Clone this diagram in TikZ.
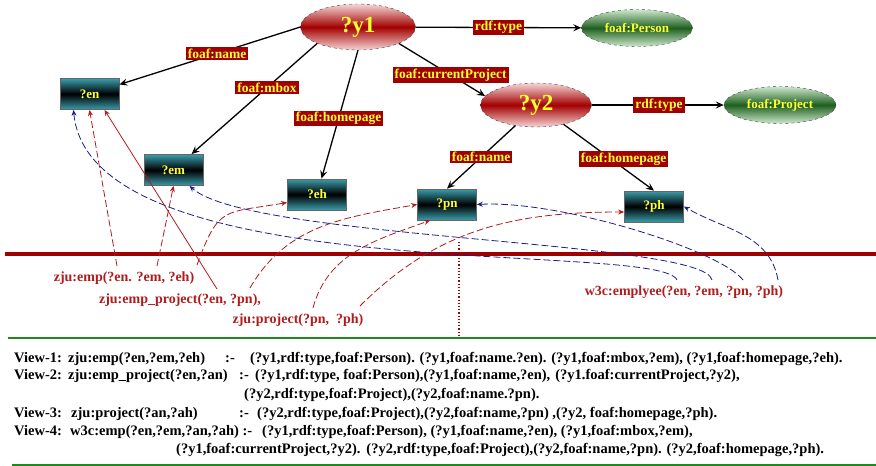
\documentclass[tikz,border=0pt]{standalone}
\usepackage{fontspec}
\setmainfont{Liberation Serif}
\usetikzlibrary{shapes.geometric,arrows.meta}
\definecolor{predred}{HTML}{A00000}
\definecolor{ellpink}{HTML}{F6D6D6}
\definecolor{ellred}{HTML}{A30000}
\definecolor{ellmint}{HTML}{CDE8CD}
\definecolor{ellgreen}{HTML}{1F5F1F}
\definecolor{boxteal}{HTML}{3A9CAA}
\definecolor{labyellow}{HTML}{FFFF33}
\definecolor{arcred}{HTML}{B01C1C}
\definecolor{arcblue}{HTML}{1C1C8C}
\definecolor{rulegreen}{HTML}{1E8A1E}
\begin{document}
\begin{tikzpicture}[x=1pt,y=1pt,
  varell/.style={ellipse,draw=black!75,dashed,inner sep=0pt,top color=ellpink,bottom color=ellpink,middle color=ellred,text=labyellow,font=\fontsize{23}{25}\selectfont\bfseries},
  classell/.style={ellipse,draw=black!75,dashed,inner sep=0pt,top color=ellmint,bottom color=ellmint,middle color=ellgreen,text=labyellow,font=\fontsize{13}{15}\selectfont\bfseries},
  termbox/.style={rectangle,draw=black!60,line width=0.8pt,minimum width=59pt,minimum height=31pt,inner sep=0pt,top color=boxteal,bottom color=boxteal,middle color=black,text=labyellow,font=\fontsize{13}{15}\selectfont\bfseries},
  predlab/.style={rectangle,fill=predred,text=labyellow,inner xsep=2pt,inner ysep=1.5pt,font=\fontsize{13.5}{15}\selectfont\bfseries},
  rel/.style={draw=black,line width=1.3pt,-{Stealth[length=8pt,width=7pt,inset=3pt]}},
  zjuarc/.style={draw=arcred,line width=0.8pt,dash pattern=on 7pt off 3pt,-{Stealth[length=6pt,width=5pt,inset=2pt]}},
  zjuline/.style={draw=arcred,line width=0.8pt,-{Stealth[length=6pt,width=5pt,inset=2pt]}},
  w3carc/.style={draw=arcblue,line width=0.8pt,dash pattern=on 7pt off 3pt,-{Stealth[length=6pt,width=5pt,inset=2pt]}},
  viewtxt/.style={text=arcred,inner sep=0pt,font=\fontsize{14}{16}\selectfont\bfseries},
  ruletxt/.style={anchor=base west,inner sep=0pt,font=\fontsize{14.5}{16}\selectfont\bfseries}]
\useasboundingbox (0,0) rectangle (876,-466);

\node[varell,minimum width=115pt,minimum height=46pt] (y1) at (358,-27) {?y1};
\node[classell,minimum width=111pt,minimum height=37pt] (person) at (637,-28) {foaf:Person};
\node[varell,minimum width=111pt,minimum height=44pt] (y2) at (536,-105) {?y2};
\node[classell,minimum width=112pt,minimum height=37pt] (project) at (780,-105) {foaf:Project};
\node[termbox] (en) at (89.5,-94) {?en};
\node[termbox] (em) at (173.5,-170) {?em};
\node[termbox] (eh) at (317,-194.5) {?eh};
\node[termbox] (pn) at (447,-204.5) {?pn};
\node[termbox] (ph) at (654,-206.5) {?ph};

\draw[rel] (y1.west) -- node[predlab,pos=0.46] {foaf:name} (en);
\draw[rel] (y1.south west) -- node[predlab,pos=0.4] {foaf:mbox} (em);
\draw[rel] (y1.south) -- node[predlab,pos=0.53] {foaf:homepage} (eh);
\draw[rel] (y1.south east) -- node[predlab,pos=0.6] {foaf:currentProject} (y2.170);
\draw[rel] (y1) -- node[predlab] {rdf:type} (person);
\draw[rel] (y2) -- node[predlab,pos=0.51] {rdf:type} (project);
\draw[rel] (y2.225) -- node[predlab,pos=0.5] {foaf:name} (pn.north);
\draw[rel] (y2.325) -- node[predlab,pos=0.52,xshift=13pt] {foaf:homepage} (ph.north);

\draw[predred,line width=3.5pt] (5,-254) -- (876,-254);
\draw[rulegreen,line width=1.8pt] (8,-338) -- (876,-338);
\draw[rulegreen,line width=1.8pt] (12,-465) -- (876,-465);
\draw[predred,dotted,line width=1.2pt] (459,-242) -- (459,-337);

\node[viewtxt] (empv) at (124,-278) {zju:emp(?en. ?em, ?eh)};
\node[viewtxt] (emppv) at (180,-300) {zju:emp\_project(?en, ?pn),};
\node[viewtxt] (projv) at (298,-320) {zju:project(?pn,\ \ ?ph)};
\node[viewtxt] (w3cv) at (684,-292) {w3c:emplyee(?en, ?em, ?pn, ?ph)};

\coordinate (a1) at (117,-266);
\coordinate (a2) at (157,-266);
\coordinate (a3) at (197,-265);
\coordinate (b1) at (217,-289);
\coordinate (b2) at (250,-288);
\coordinate (c1) at (313,-308);
\coordinate (c2) at (360,-306);
\coordinate (d1) at (677,-280);
\coordinate (d2) at (712,-280);
\coordinate (d3) at (743,-280);
\coordinate (d4) at (778,-280);

\draw[zjuarc] (a1) -- (en.south);
\draw[zjuarc] (a2) -- (em.south);
\draw[zjuarc] (a3) to[out=70,in=190,looseness=1.5] ([yshift=-8pt]eh.west);
\draw[zjuline] (b1) -- ([xshift=15pt]en.south);
\draw[zjuarc] (b2) to[out=60,in=190] (pn.west);
\draw[zjuarc] (c1) to[out=75,in=200] ([xshift=-17pt]pn.south);
\draw[zjuarc] (c2) to[out=45,in=180] ([yshift=-5.5pt]ph.west);

\draw[w3carc] (d1) .. controls (660,-240) and (90,-290) .. ([xshift=-16pt]en.south);
\draw[w3carc] (d2) .. controls (705,-240) and (250,-240) .. ([xshift=16pt]em.south);
\draw[w3carc] (d3) .. controls (720,-250) and (560,-200) .. (pn.east);
\draw[w3carc] (d4) to[out=100,in=-30] (ph.east);

\node[ruletxt] (v1name) at (14,-362) {View-1:};
\node[ruletxt] (v1head) at (68,-362) {zju:emp(?en,?em,?eh)};
\node[ruletxt] (v1sep) at (225,-362) {:-};
\node[ruletxt] (v1body) at (250,-362) {(?y1,rdf:type,foaf:Person). (?y1,foaf:name.?en). (?y1,foaf:mbox,?em), (?y1,foaf:homepage,?eh).};
\node[ruletxt] (v2name) at (14,-379.5) {View-2:};
\node[ruletxt] (v2head) at (68,-379.5) {zju:emp\_project(?en,?an)};
\node[ruletxt] (v2sep) at (239,-379.5) {:-};
\node[ruletxt] (v2body) at (255,-379.5) {(?y1,rdf:type, foaf:Person),(?y1,foaf:name,?en),\hspace{5pt}(?y1.foaf:currentProject,?y2),};
\node[ruletxt] (v2more) at (244,-398) {(?y2,rdf:type,foaf:Project),(?y2,foaf:name.?pn).};
\node[ruletxt] (v3name) at (14,-417) {View-3:};
\node[ruletxt] (v3head) at (71,-417) {zju:project(?an,?ah)};
\node[ruletxt] (v3sep) at (239,-417) {:-};
\node[ruletxt] (v3body) at (257,-417) {(?y2,rdf:type,foaf:Project),(?y2,foaf:name,?pn) ,(?y2, foaf:homepage,?ph).};
\node[ruletxt] (v4name) at (14,-435.5) {View-4:};
\node[ruletxt] (v4head) at (70,-435.5) {w3c:emp(?en,?em,?an,?ah) :-};
\node[ruletxt] (v4body) at (262,-435.5) {(?y1,rdf:type,foaf:Person), (?y1,foaf:name,?en), (?y1,foaf:mbox,?em),};
\node[ruletxt] (v4more) at (176,-453.5) {(?y1,foaf:currentProject,?y2).\hspace{6pt}(?y2,rdf:type,foaf:Project),(?y2,foaf:name,?pn). (?y2,foaf:homepage,?ph).};
\end{tikzpicture}
\end{document}
